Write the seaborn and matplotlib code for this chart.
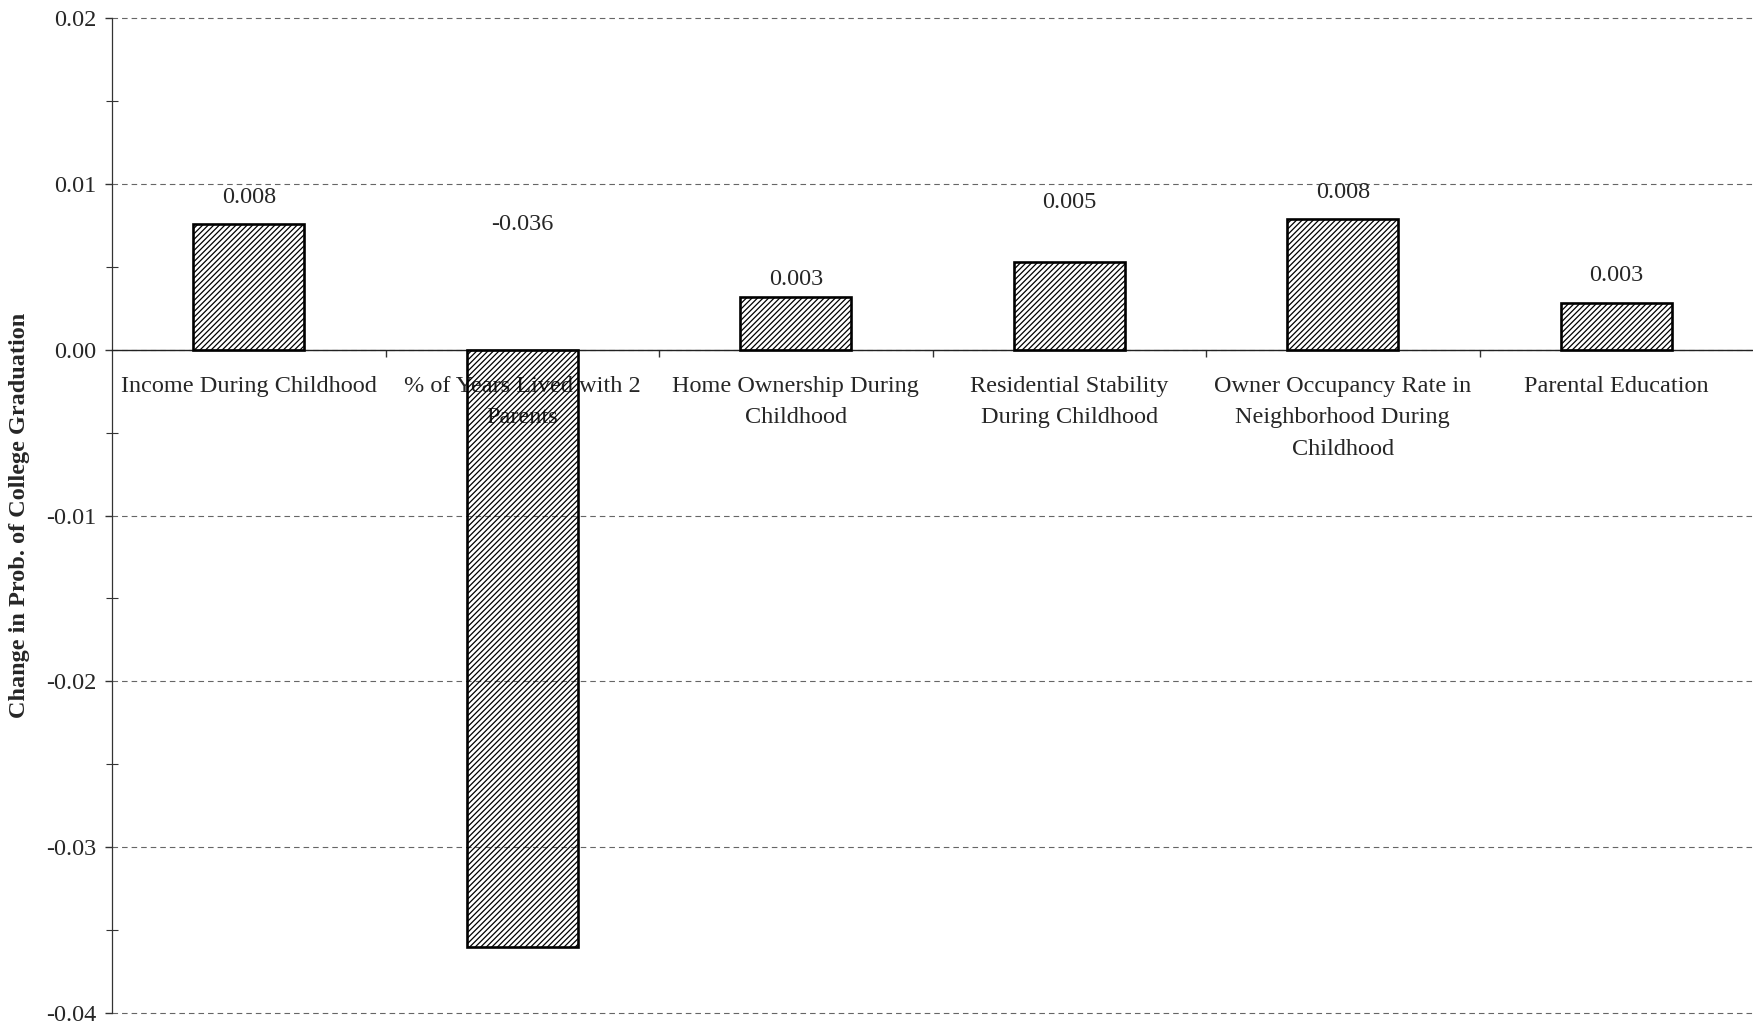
import matplotlib
matplotlib.use("Agg")
import matplotlib.pyplot as plt
from matplotlib.ticker import FixedLocator, MultipleLocator, NullFormatter
import seaborn as sns
import pandas as pd

# Marginal effects on the probability of college graduation
categories = [
    "Income During Childhood",
    "% of Years Lived with 2\nParents",
    "Home Ownership During\nChildhood",
    "Residential Stability\nDuring Childhood",
    "Owner Occupancy Rate in\nNeighborhood During\nChildhood",
    "Parental Education",
]
effects = [0.0076, -0.0360, 0.0032, 0.0053, 0.0079, 0.0028]

y_ticks = [0.02, 0.01, 0.00, -0.01, -0.02, -0.03, -0.04]
y_label = "Change in Prob. of College Graduation"

df = pd.DataFrame({"category": categories, "effect": effects})

sns.set_style("white")
plt.rcParams["font.family"] = ["Liberation Serif", "DejaVu Serif"]
plt.rcParams["hatch.linewidth"] = 0.9

FS = 17.5

fig = plt.figure(figsize=(17.53, 10.24), dpi=100)
ax = fig.add_axes([0.0639, 0.0107, 0.9361, 0.9717])

sns.barplot(data=df, x="category", y="effect", order=categories,
            width=0.406, ax=ax, errorbar=None)

for patch in ax.patches:
    patch.set_facecolor("none")
    patch.set_edgecolor("black")
    patch.set_hatch("//////")
    if hasattr(patch, "set_hatchcolor"):
        patch.set_hatchcolor("#3c3c3c")
    patch.set_linewidth(1.9)
    patch.set_zorder(3)

n = len(categories)
ax.set_xlim(-0.5, n - 0.5)
ax.set_ylim(min(y_ticks), max(y_ticks))

# y axis: dashed gridlines at major ticks, crossing minor ticks in between
ax.yaxis.set_major_locator(FixedLocator(y_ticks))
ax.yaxis.set_minor_locator(MultipleLocator(0.005))
ax.set_yticklabels([f"{t:.2f}" for t in y_ticks], fontsize=FS)
ax.tick_params(axis="y", which="major", direction="out", length=5,
               width=1.0, color="#333333", pad=6, left=True)
ax.tick_params(axis="y", which="minor", direction="inout", length=9,
               width=0.8, color="#333333", left=True)
ax.grid(axis="y", which="major", color="#666666", linestyle=(0, (5, 3.6)),
        linewidth=0.8, zorder=0)
for gl in ax.get_ygridlines():
    gl.set_clip_on(False)
ax.set_axisbelow(True)

# x axis sits at zero: boundary ticks below the line, labels at bar centres
ax.spines["bottom"].set_position(("data", 0))
ax.spines["bottom"].set_color("#222222")
ax.spines["bottom"].set_linewidth(1.0)
ax.spines["left"].set_color("#333333")
ax.spines["left"].set_linewidth(0.9)
ax.spines["top"].set_visible(False)
ax.spines["right"].set_visible(False)

ax.xaxis.set_major_locator(FixedLocator([i + 0.5 for i in range(n - 1)]))
ax.xaxis.set_major_formatter(NullFormatter())
ax.set_xticks(list(range(n)), minor=True)
ax.set_xticklabels(categories, minor=True, fontsize=FS, linespacing=1.65,
                   va="top", ha="center")
ax.tick_params(axis="x", which="major", direction="out", length=5,
               width=1.0, color="#333333", bottom=True)
ax.tick_params(axis="x", which="minor", length=0, pad=19)
ax.set_xlabel("")
ax.set_ylabel(y_label, fontsize=FS, fontweight="bold", labelpad=12)

# value labels above each bar (the negative bar is labelled above the axis)
label_offsets = [19, 90, 12, 43, 19, 20]
for i, (v, off) in enumerate(zip(effects, label_offsets)):
    base = max(v, 0)
    ax.annotate(f"{v:.3f}", xy=(i, base), xytext=(0, off),
                textcoords="offset points", ha="center", va="center",
                fontsize=FS, zorder=4)

fig.savefig("out.png", dpi=100)
